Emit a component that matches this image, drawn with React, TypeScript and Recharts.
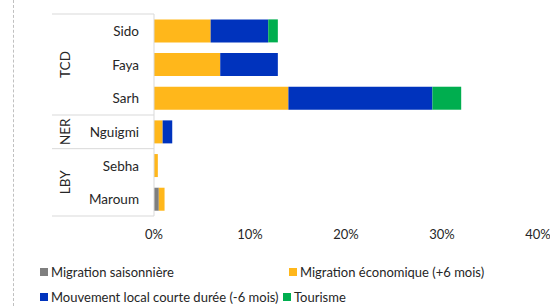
import React from "react"
import { BarChart, Bar, XAxis, YAxis } from "recharts"

// categories, top to bottom, with their country group
const categories = ["Sido", "Faya", "Sarh", "Nguigmi", "Sebha", "Maroum"]
const groups = ["TCD", "TCD", "TCD", "NER", "LBY", "LBY"]

// shares in %
const saisonniere = [0, 0, 0, 0, 0, 0.5]
const economique = [5.9, 6.9, 14.0, 0.9, 0.4, 0.6]
const localCourt = [6.0, 6.0, 15.0, 1.0, 0, 0]
const tourisme = [1.0, 0, 3.0, 0, 0, 0]

const xTicks = [0, 10, 20, 30, 40]

const series = [
    { key: "saisonniere", name: "Migration saisonnière", color: "#7f7f7f" },
    { key: "economique", name: "Migration économique (+6 mois)", color: "#ffb71b" },
    { key: "local", name: "Mouvement local courte durée (-6 mois)", color: "#0033bd" },
    { key: "tourisme", name: "Tourisme", color: "#00ae4f" },
]

const data = categories.map((c, i) => ({
    name: c,
    group: groups[i],
    saisonniere: saisonniere[i],
    economique: economique[i],
    local: localCourt[i],
    tourisme: tourisme[i],
}))

const W = 550
const H = 306
const MARGIN = { top: 14, right: 12, left: 0, bottom: 60 }
const X_AXIS_H = 30
const Y_AXIS_W = 154
const PLOT_H = H - MARGIN.top - MARGIN.bottom - X_AXIS_H
const FONT = "Lato, 'Open Sans', sans-serif"
const LINE = "#d9d9d9"
const TEXT = "#262626"

function CategoryTick(props: any) {
    const { y, payload } = props
    const i = props.index ?? payload.index
    const band = PLOT_H / categories.length
    const g = groups[i]
    const first = i === 0 || groups[i - 1] !== g
    const count = groups.filter(x => x === g).length
    const gy = y + ((count - 1) * band) / 2
    return (
        <g>
            <text x={139} y={y} textAnchor="end" dominantBaseline="central" fontSize={13.5} fontFamily={FONT} fill={TEXT}>
                {payload.value}
            </text>
            {first && (
                <>
                    <line x1={52} x2={Y_AXIS_W} y1={y - band / 2} y2={y - band / 2} stroke={LINE} />
                    <text x={65} y={gy} transform={`rotate(-90, 65, ${gy})`} textAnchor="middle" dominantBaseline="central" fontSize={13.5} fontFamily={FONT} fill={TEXT}>
                        {g}
                    </text>
                </>
            )}
            {i === categories.length - 1 && (
                <line x1={52} x2={Y_AXIS_W} y1={y + band / 2} y2={y + band / 2} stroke={LINE} />
            )}
        </g>
    )
}

const legendPos = [
    { left: 40, top: 272 },
    { left: 289, top: 272 },
    { left: 40, top: 297 },
    { left: 283, top: 297 },
]

export default function App() {
    return (
        <div style={{ position: "absolute", left: 0, top: 0, width: W, height: H, background: "#fff", fontFamily: FONT, overflow: "hidden" }}>
            <div style={{ position: "absolute", left: 13, top: 0, height: H, borderLeft: "1px dashed #c0c0c0" }} />
            <BarChart width={W} height={H} data={data} layout="vertical" margin={MARGIN} barCategoryGap="16%">
                <XAxis
                    type="number"
                    domain={[0, 40]}
                    ticks={xTicks}
                    tickFormatter={(v: number) => `${v}%`}
                    axisLine={false}
                    tickLine={false}
                    tickMargin={8}
                    height={X_AXIS_H}
                    tick={{ fontSize: 13, fontFamily: FONT, fill: TEXT }}
                    interval={0}
                />
                <YAxis
                    type="category"
                    dataKey="name"
                    width={Y_AXIS_W}
                    axisLine={{ stroke: LINE }}
                    tickLine={false}
                    tick={<CategoryTick />}
                    interval={0}
                />
                {series.map(s => (
                    <Bar key={s.key} dataKey={s.key} name={s.name} stackId="a" fill={s.color} isAnimationActive={false} />
                ))}
            </BarChart>
            {series.map((s, k) => (
                <div
                    key={s.key}
                    style={{
                        position: "absolute",
                        left: legendPos[k].left,
                        top: legendPos[k].top - 8,
                        height: 16,
                        display: "flex",
                        alignItems: "center",
                        fontSize: 13,
                        lineHeight: "16px",
                        color: TEXT,
                        whiteSpace: "nowrap",
                    }}
                >
                    <span style={{ display: "inline-block", width: 8, height: 8, background: s.color, marginRight: 3 }} />
                    {s.name}
                </div>
            ))}
        </div>
    )
}
